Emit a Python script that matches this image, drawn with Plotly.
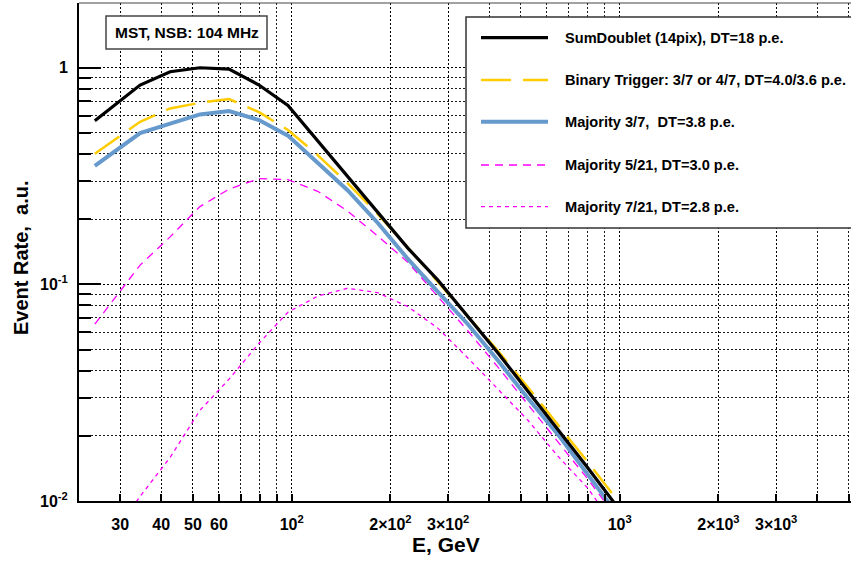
import plotly.graph_objects as go

# ---------------- data ----------------
energy = [25.1, 34.5, 42.6, 52.5, 64.4, 79.5, 97.4, 120, 148, 183, 226, 279,
          345, 426, 525, 648, 800, 988, 1220]

sum_doublet = [0.569, 0.832, 0.958, 1.0, 0.986, 0.832, 0.669, 0.459, 0.313,
               0.213, 0.147, 0.1046, 0.0706, 0.0481, 0.0321, 0.0214, 0.0142,
               0.0093, 0.0059]
binary_trigger = [0.401, 0.563, 0.649, 0.689, 0.717, 0.624, 0.516, 0.395,
                  0.293, 0.211, 0.148, 0.1024, 0.0713, 0.0492, 0.0335, 0.0226,
                  0.0151, 0.0100, 0.0065]
majority_3_7 = [0.352, 0.4995, 0.5525, 0.609, 0.631, 0.5735, 0.486, 0.366,
                0.272, 0.192, 0.131, 0.0924, 0.0653, 0.0444, 0.0298, 0.0203,
                0.0133, 0.0087, 0.0056]
majority_5_21 = [0.0655, 0.1227, 0.1657, 0.2285, 0.2752, 0.3077, 0.3045, 0.269,
                 0.218, 0.167, 0.1266, 0.0879, 0.0608, 0.0414, 0.0280, 0.0189,
                 0.0126, 0.0082, 0.0053]
majority_7_21 = [0.0053, 0.0105, 0.0159, 0.0262, 0.0365, 0.0535, 0.0744, 0.0882,
                 0.0960, 0.0915, 0.0789, 0.0628, 0.0456, 0.0329, 0.0236, 0.0161,
                 0.01145, 0.0073, 0.0048]

series_names = ["SumDoublet (14pix), DT=18 p.e.",
                "Binary Trigger: 3/7 or 4/7, DT=4.0/3.6 p.e.",
                "Majority 3/7,  DT=3.8 p.e.",
                "Majority 5/21, DT=3.0 p.e.",
                "Majority 7/21, DT=2.8 p.e."]

x_tick_vals = [30, 40, 50, 60, 100, 200, 300, 1000, 2000, 3000]
x_tick_text = ["30", "40", "50", "60", "10<sup>2</sup>", "2×10<sup>2</sup>",
               "3×10<sup>2</sup>", "10<sup>3</sup>", "2×10<sup>3</sup>",
               "3×10<sup>3</sup>"]
x_decades = [100, 1000]
y_tick_vals = [0.01, 0.1, 1]
y_tick_text = ["10<sup>-2</sup>", "10<sup>-1</sup>", "1"]

# ---------------- styling ----------------
W, H = 851, 570
ML, MR, MT, MB = 79, 0, 3, 69
PW, PH = W - ML - MR, H - MT - MB
FONT = "Liberation Sans, Arial, Helvetica, sans-serif"

styles = [
    dict(color="black", width=3.2, dash="solid"),
    dict(color="rgb(255,204,0)", width=2.5, dash="30px,12px"),
    dict(color="rgb(102,153,204)", width=4, dash="solid"),
    dict(color="rgb(255,0,255)", width=1.3, dash="8px,6px"),
    dict(color="rgb(255,0,255)", width=1.3, dash="4px,4px"),
]
series = [sum_doublet, binary_trigger, majority_3_7, majority_5_21, majority_7_21]

fig = go.Figure()
draw_order = [4, 3, 2, 1, 0]
for i in draw_order:
    fig.add_trace(go.Scatter(x=energy, y=series[i], mode="lines",
                             name=series_names[i], line=styles[i],
                             showlegend=False))


def px_x(px):
    return (px - ML) / PW


def px_y(py):
    return (H - MB - py) / PH


grid_kw = dict(gridcolor="rgba(0,0,0,0.9)", gridwidth=1, griddash="1.5px,2.5px")

fig.update_layout(
    width=W, height=H,
    margin=dict(l=ML, r=MR, t=MT, b=MB, autoexpand=False),
    paper_bgcolor="white", plot_bgcolor="white",
    font=dict(family=FONT, color="black"),
    xaxis=dict(type="log", range=[1.3515, 3.7052],
               tickvals=x_tick_vals, ticktext=x_tick_text,
               tickfont=dict(size=16, family=FONT, weight="bold"),
               ticks="inside", ticklen=7, tickwidth=1.5, tickcolor="black",
               ticklabelstandoff=8, automargin=False,
               showline=True, linecolor="black", linewidth=2,
               showgrid=True, **grid_kw,
               minor=dict(dtick="D1", ticks="inside", ticklen=7, tickwidth=1.5,
                          tickcolor="black", showgrid=True, **grid_kw),
               zeroline=False),
    xaxis2=dict(type="log", range=[1.3515, 3.7052], overlaying="x", anchor="y",
                side="bottom", tickvals=x_decades, ticks="inside", ticklen=14,
                tickwidth=2, tickcolor="black", showticklabels=False,
                showgrid=False, showline=False, zeroline=False, automargin=False),
    yaxis=dict(type="log", range=[-2, 0.2988],
               tickvals=y_tick_vals, ticktext=y_tick_text,
               tickfont=dict(size=16, family=FONT, weight="bold"),
               ticks="inside", ticklen=22, tickwidth=1.5, tickcolor="black",
               ticklabelstandoff=6, automargin=False,
               showline=True, linecolor="black", linewidth=2,
               showgrid=True, **grid_kw,
               minor=dict(dtick="D1", ticks="inside", ticklen=12, tickwidth=1.5,
                          tickcolor="black", showgrid=True, **grid_kw),
               zeroline=False),
    showlegend=False,
)

shapes = []
annotations = []
# top frame line
shapes.append(dict(type="line", xref="paper", yref="paper", x0=0, x1=1, y0=1, y1=1,
                   line=dict(color="#444", width=1)))

# info box
shapes.append(dict(type="rect", xref="paper", yref="paper",
                   x0=px_x(106), x1=px_x(267), y0=px_y(49), y1=px_y(16),
                   fillcolor="white", line=dict(color="#444", width=1.5),
                   layer="above"))
annotations.append(dict(xref="paper", yref="paper", x=px_x(186.5), y=px_y(32.5),
                        text="MST, NSB: 104 MHz", showarrow=False,
                        font=dict(size=15.5, family=FONT, weight="bold"),
                        xanchor="center", yanchor="middle"))

# legend box
shapes.append(dict(type="rect", xref="paper", yref="paper",
                   x0=px_x(466), x1=px_x(870), y0=px_y(228), y1=px_y(17),
                   fillcolor="white", line=dict(color="#333", width=1.5),
                   layer="above"))
row_y = [37.7, 80, 121.7, 165, 206.7]
for i, name in enumerate(series_names):
    st = styles[i]
    shapes.append(dict(type="line", xref="paper", yref="paper",
                       x0=px_x(481), x1=px_x(548), y0=px_y(row_y[i]), y1=px_y(row_y[i]),
                       line=dict(color=st["color"], width=st["width"], dash=st["dash"]),
                       layer="above"))
    annotations.append(dict(xref="paper", yref="paper", x=px_x(563), y=px_y(row_y[i]),
                            text=name, showarrow=False, xanchor="left",
                            yanchor="middle",
                            font=dict(size=14.6, family=FONT, weight="bold")))

# axis titles
annotations.append(dict(xref="paper", yref="paper", x=px_x(446), y=px_y(544),
                        text="E, GeV", showarrow=False, xanchor="center",
                        yanchor="middle",
                        font=dict(size=21, family=FONT, weight="bold")))
annotations.append(dict(xref="paper", yref="paper", x=px_x(21), y=px_y(258),
                        text="Event Rate,  a.u.", showarrow=False, textangle=-90,
                        xanchor="center", yanchor="middle",
                        font=dict(size=20, family=FONT, weight="bold")))

fig.update_layout(shapes=shapes, annotations=annotations)
fig.write_html(
    "out.html",
    config={"displayModeBar": False},
    post_script="document.body.style.margin='0px';"
                "document.documentElement.style.overflow='hidden';",
)
